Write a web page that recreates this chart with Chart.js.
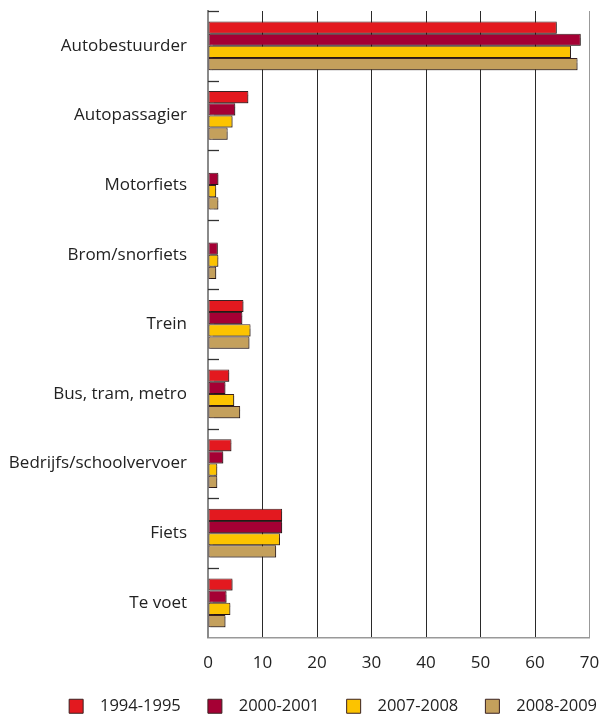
<!DOCTYPE html>
<html>
<head>
<meta charset="utf-8">
<script src="https://cdn.jsdelivr.net/npm/chart.js@4"></script>
<style>
  html, body { margin: 0; padding: 0; background: #fff; overflow: hidden; }
  #wrap { position: relative; width: 601px; height: 715px; }
  canvas { display: block; }
</style>
</head>
<body>
<div id="wrap"><canvas id="chart"></canvas></div>
<script>
const categories = ["Autobestuurder", "Autopassagier", "Motorfiets", "Brom/snorfiets", "Trein",
  "Bus, tram, metro", "Bedrijfs/schoolvervoer", "Fiets", "Te voet"];
const seriesNames = ["1994-1995", "2000-2001", "2007-2008", "2008-2009"];
const v1994 = [64.0, 7.4, null, null, 6.5, 3.9, 4.3, 13.6, 4.5];
const v2000 = [68.4, 5.0, 1.9, 1.8, 6.3, 3.2, 2.8, 13.6, 3.4];
const v2007 = [66.6, 4.5, 1.5, 1.9, 7.8, 4.8, 1.7, 13.2, 4.1];
const v2008 = [67.8, 3.6, 1.9, 1.5, 7.6, 5.9, 1.7, 12.5, 3.2];
const xTicks = [0, 10, 20, 30, 40, 50, 60, 70];

const colors = ["#e3191f", "#a50034", "#fcc300", "#c4a05c"];
const font = "'Open Sans', 'Noto Sans', sans-serif";

// soft shadow under the bars
const barShadow = {
  id: "barShadow",
  beforeDatasetsDraw(chart) {
    const ctx = chart.ctx;
    ctx.save();
    ctx.shadowColor = "rgba(0,0,0,0.35)";
    ctx.shadowOffsetX = 1.5;
    ctx.shadowOffsetY = 1.5;
    ctx.shadowBlur = 1;
  },
  afterDatasetsDraw(chart) {
    chart.ctx.restore();
  },
};

// short tick marks inside the plot at the category boundaries
const innerTicks = {
  id: "innerTicks",
  afterDraw(chart) {
    const y = chart.scales.y;
    const area = chart.chartArea;
    const step = y.getPixelForValue(1) - y.getPixelForValue(0);
    const ctx = chart.ctx;
    ctx.save();
    ctx.strokeStyle = "#333";
    ctx.lineWidth = 1.3;
    for (let i = 0; i < categories.length; i++) {
      const py = Math.round(y.getPixelForValue(i) - step / 2) + 0.5;
      ctx.beginPath();
      ctx.moveTo(area.left, py);
      ctx.lineTo(area.left + 11, py);
      ctx.stroke();
    }
    ctx.restore();
  },
};

const seriesValues = [v1994, v2000, v2007, v2008];
const lastName = seriesNames[seriesNames.length - 1];

new Chart(document.getElementById("chart"), {
  type: "bar",
  data: {
    labels: categories,
    datasets: seriesNames.map((name, i) => ({
      label: name,
      data: seriesValues[i],
      backgroundColor: colors[i],
      borderColor: "#3a2222",
      borderWidth: 1,
      borderSkipped: false,
      categoryPercentage: 0.7,
      barPercentage: 1,
    })),
  },
  options: {
    indexAxis: "y",
    responsive: true,
    maintainAspectRatio: false,
    animation: false,
    layout: { padding: { top: 11, right: -6, left: 0, bottom: 0 } },
    plugins: {
      tooltip: { enabled: false },
      legend: {
        position: "bottom",
        align: "end",
        maxHeight: 27,
        labels: {
          color: "#222",
          font: { family: font, size: 16.5 },
          boxWidth: 14,
          boxHeight: 14,
          padding: 10,
          generateLabels: (chart) =>
            Chart.defaults.plugins.legend.labels.generateLabels(chart).map((l) => ({
              ...l,
              text: "  " + l.text + (l.text === lastName ? "" : "    "),
            })),
        },
      },
    },
    scales: {
      x: {
        min: 0,
        max: 70,
        afterBuildTicks: (scale) => { scale.ticks = xTicks.map((v) => ({ value: v })); },
        afterFit: (scale) => { scale.paddingLeft = 0; scale.paddingRight = 11.5; },
        grid: {
          color: (c) => (c.tick && c.tick.value === 70 ? "#999" : "#2a2a2a"),
          lineWidth: 1,
          drawTicks: false,
        },
        border: { color: "#999", width: 1.5 },
        ticks: { color: "#222", font: { family: font, size: 17 }, padding: 15 },
      },
      y: {
        afterFit: (scale) => { scale.width = 208; scale.paddingTop = 0; scale.paddingBottom = 0; },
        grid: { display: false, drawTicks: false },
        border: { color: "#8a8a8a", width: 2 },
        ticks: { color: "#222", font: { family: font, size: 17 }, padding: 21 },
      },
    },
  },
  plugins: [barShadow, innerTicks],
});
</script>
</body>
</html>
